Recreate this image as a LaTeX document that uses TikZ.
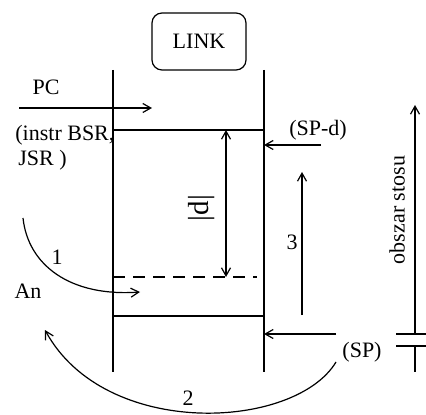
\documentclass[tikz,border=0pt]{standalone}
\usepackage{fontspec}
\setmainfont{Liberation Serif}
\usetikzlibrary{arrows.meta}

\tikzset{
  wall/.style={line width=0.6pt},
  arr/.style={line width=0.6pt, -{Straight Barb[length=4pt,width=4.5pt]}},
  linkbox/.style={draw, rounded corners=5pt, line width=0.6pt, minimum width=47pt, minimum height=28.5pt},
  lbl/.style={draw=none, inner sep=0pt}
}

\begin{document}
\begin{tikzpicture}[x=0.5pt, y=-0.5pt, font=\fontsize{11}{12.5}\selectfont]
    \useasboundingbox (0,0) rectangle (426,415);

    % LINK box and the stack walls
    \node[linkbox] (link) at (199,41.5) {LINK};
    \coordinate (lt) at (113,70);
    \coordinate (lb) at (113,372);
    \coordinate (rt) at (264,70);
    \coordinate (rb) at (264,372);
    \draw[wall] (lt) -- (lb);
    \draw[wall] (rt) -- (rb);

    % Frame lines
    \coordinate (ftl) at (113,130);
    \coordinate (ftr) at (264,130);
    \coordinate (fdl) at (113,277);
    \coordinate (fdr) at (257,277);
    \coordinate (fbl) at (113,316);
    \coordinate (fbr) at (264,316);
    \draw[wall] (ftl) -- (ftr);
    \draw[wall, dashed, dash pattern=on 6pt off 4pt] (fdl) -- (fdr);
    \draw[wall] (fbl) -- (fbr);

    % PC and return address
    \node[lbl] (pc) at (46,87) {PC};
    \coordinate (pcs) at (19,108);
    \coordinate (pce) at (152,108);
    \draw[arr] (pcs) -- (pce);
    \node[lbl, anchor=north west, align=left] (instr) at (15,125) {(instr BSR,\\ \hspace{1.5pt}JSR )};

    % Offset d
    \coordinate (dt) at (226,130);
    \coordinate (db) at (226,277);
    \draw[line width=0.6pt, {Straight Barb[length=4pt,width=4.5pt]}-{Straight Barb[length=4pt,width=4.5pt]}] (dt) -- (db);
    \node[lbl, rotate=90, font=\fontsize{14.5}{16}\selectfont] (d) at (201.5,208) {|d|};

    % Stack pointers
    \node[lbl] (spd) at (318,130) {(SP-d)};
    \coordinate (spds) at (321,145);
    \coordinate (spde) at (264,145);
    \draw[arr] (spds) -- (spde);
    \node[lbl] (sp) at (362,352) {(SP)};
    \coordinate (sps) at (336,334);
    \coordinate (spe) at (264,334);
    \draw[arr] (sps) -- (spe);

    % Step 3
    \coordinate (s3b) at (302,315);
    \coordinate (s3t) at (302,172);
    \draw[arr] (s3b) -- (s3t);
    \node[lbl] (n3) at (292,242) {3};

    % Stack area
    \coordinate (obb) at (415,334);
    \coordinate (obt) at (415,105);
    \draw[arr] (obb) -- (obt);
    \node[lbl, rotate=90] (ob) at (397,210) {obszar stosu};
    \coordinate (c1l) at (396,334);
    \coordinate (c1r) at (426,334);
    \coordinate (c2l) at (396,346);
    \coordinate (c2r) at (426,346);
    \coordinate (c3b) at (415,372);
    \draw[wall] (c1l) -- (c1r);
    \draw[line width=1pt] (c2l) -- (c2r);
    \draw[wall] (c2l -| obb) -- (c3b);

    % Step 1
    \coordinate (a1s) at (23,218);
    \coordinate (a1e) at (140,292);
    \draw[arr] (a1s) .. controls (28,265) and (70,297) .. (a1e);
    \node[lbl] (n1) at (57,257) {1};
    \node[lbl] (an) at (28,291) {An};

    % Step 2
    \coordinate (a2s) at (336,362);
    \coordinate (a2e) at (45,330);
    \draw[arr] (a2s) .. controls (295,430) and (105,440) .. (a2e);
    \node[lbl] (n2) at (188,398) {2};

\end{tikzpicture}
\end{document}
